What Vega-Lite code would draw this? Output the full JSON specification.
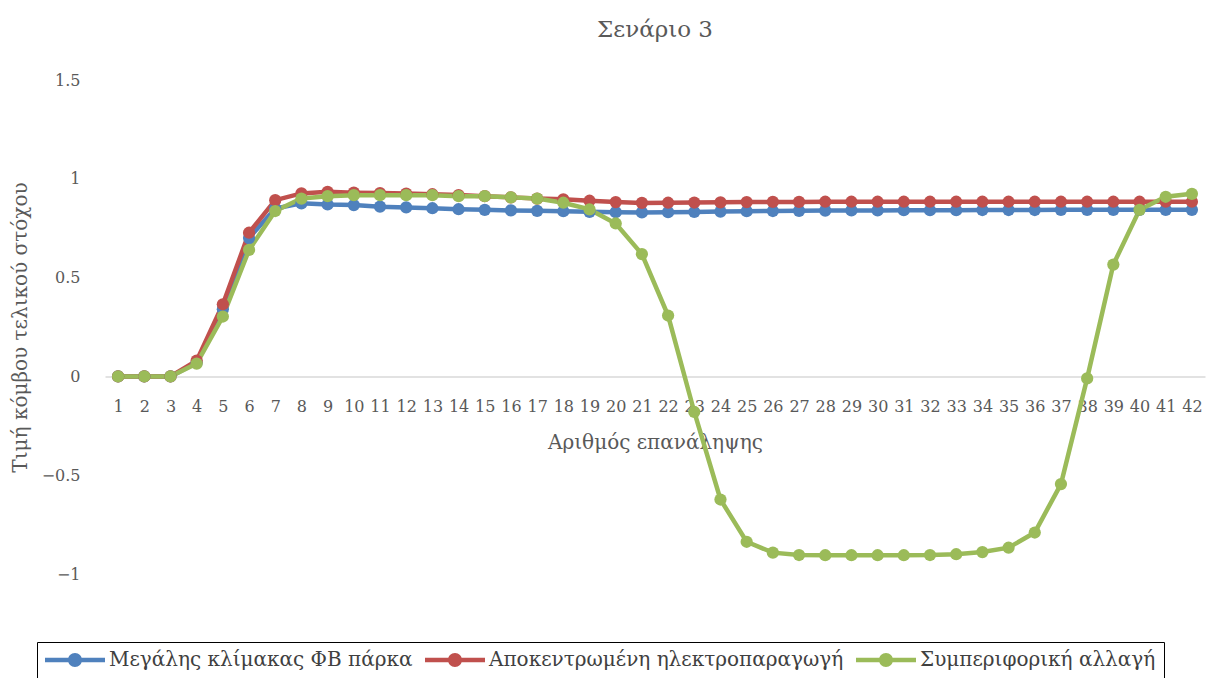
{
  "$schema": "https://vega.github.io/schema/vega-lite/v6.json",
  "width": 1100,
  "height": 494,
  "autosize": "none",
  "padding": {"left": 105, "top": 80, "right": 3, "bottom": 104},
  "background": "white",
  "title": {"text": "Σενάριο 3", "font": "DejaVu Serif", "fontSize": 23, "fontWeight": "normal", "color": "#595959", "anchor": "middle", "offset": 30},
  "config": {"view": {"stroke": null}, "legend": {"labelFont": "DejaVu Serif", "labelFontSize": 20}},
  "data": {"values": [
    {"i":1,"s":"Μεγάλης κλίμακας ΦΒ πάρκα","v":0},
    {"i":2,"s":"Μεγάλης κλίμακας ΦΒ πάρκα","v":0},
    {"i":3,"s":"Μεγάλης κλίμακας ΦΒ πάρκα","v":0},
    {"i":4,"s":"Μεγάλης κλίμακας ΦΒ πάρκα","v":0.07},
    {"i":5,"s":"Μεγάλης κλίμακας ΦΒ πάρκα","v":0.34},
    {"i":6,"s":"Μεγάλης κλίμακας ΦΒ πάρκα","v":0.70},
    {"i":7,"s":"Μεγάλης κλίμακας ΦΒ πάρκα","v":0.85},
    {"i":8,"s":"Μεγάλης κλίμακας ΦΒ πάρκα","v":0.876},
    {"i":9,"s":"Μεγάλης κλίμακας ΦΒ πάρκα","v":0.87},
    {"i":10,"s":"Μεγάλης κλίμακας ΦΒ πάρκα","v":0.867},
    {"i":11,"s":"Μεγάλης κλίμακας ΦΒ πάρκα","v":0.859},
    {"i":12,"s":"Μεγάλης κλίμακας ΦΒ πάρκα","v":0.855},
    {"i":13,"s":"Μεγάλης κλίμακας ΦΒ πάρκα","v":0.851},
    {"i":14,"s":"Μεγάλης κλίμακας ΦΒ πάρκα","v":0.846},
    {"i":15,"s":"Μεγάλης κλίμακας ΦΒ πάρκα","v":0.843},
    {"i":16,"s":"Μεγάλης κλίμακας ΦΒ πάρκα","v":0.84},
    {"i":17,"s":"Μεγάλης κλίμακας ΦΒ πάρκα","v":0.838},
    {"i":18,"s":"Μεγάλης κλίμακας ΦΒ πάρκα","v":0.836},
    {"i":19,"s":"Μεγάλης κλίμακας ΦΒ πάρκα","v":0.833},
    {"i":20,"s":"Μεγάλης κλίμακας ΦΒ πάρκα","v":0.831},
    {"i":21,"s":"Μεγάλης κλίμακας ΦΒ πάρκα","v":0.83},
    {"i":22,"s":"Μεγάλης κλίμακας ΦΒ πάρκα","v":0.831},
    {"i":23,"s":"Μεγάλης κλίμακας ΦΒ πάρκα","v":0.832},
    {"i":24,"s":"Μεγάλης κλίμακας ΦΒ πάρκα","v":0.834},
    {"i":25,"s":"Μεγάλης κλίμακας ΦΒ πάρκα","v":0.836},
    {"i":26,"s":"Μεγάλης κλίμακας ΦΒ πάρκα","v":0.837},
    {"i":27,"s":"Μεγάλης κλίμακας ΦΒ πάρκα","v":0.838},
    {"i":28,"s":"Μεγάλης κλίμακας ΦΒ πάρκα","v":0.839},
    {"i":29,"s":"Μεγάλης κλίμακας ΦΒ πάρκα","v":0.84},
    {"i":30,"s":"Μεγάλης κλίμακας ΦΒ πάρκα","v":0.84},
    {"i":31,"s":"Μεγάλης κλίμακας ΦΒ πάρκα","v":0.841},
    {"i":32,"s":"Μεγάλης κλίμακας ΦΒ πάρκα","v":0.841},
    {"i":33,"s":"Μεγάλης κλίμακας ΦΒ πάρκα","v":0.841},
    {"i":34,"s":"Μεγάλης κλίμακας ΦΒ πάρκα","v":0.842},
    {"i":35,"s":"Μεγάλης κλίμακας ΦΒ πάρκα","v":0.842},
    {"i":36,"s":"Μεγάλης κλίμακας ΦΒ πάρκα","v":0.842},
    {"i":37,"s":"Μεγάλης κλίμακας ΦΒ πάρκα","v":0.843},
    {"i":38,"s":"Μεγάλης κλίμακας ΦΒ πάρκα","v":0.843},
    {"i":39,"s":"Μεγάλης κλίμακας ΦΒ πάρκα","v":0.843},
    {"i":40,"s":"Μεγάλης κλίμακας ΦΒ πάρκα","v":0.843},
    {"i":41,"s":"Μεγάλης κλίμακας ΦΒ πάρκα","v":0.843},
    {"i":42,"s":"Μεγάλης κλίμακας ΦΒ πάρκα","v":0.843},
    {"i":1,"s":"Αποκεντρωμένη ηλεκτροπαραγωγή","v":0},
    {"i":2,"s":"Αποκεντρωμένη ηλεκτροπαραγωγή","v":0},
    {"i":3,"s":"Αποκεντρωμένη ηλεκτροπαραγωγή","v":0},
    {"i":4,"s":"Αποκεντρωμένη ηλεκτροπαραγωγή","v":0.08},
    {"i":5,"s":"Αποκεντρωμένη ηλεκτροπαραγωγή","v":0.365},
    {"i":6,"s":"Αποκεντρωμένη ηλεκτροπαραγωγή","v":0.727},
    {"i":7,"s":"Αποκεντρωμένη ηλεκτροπαραγωγή","v":0.892},
    {"i":8,"s":"Αποκεντρωμένη ηλεκτροπαραγωγή","v":0.926},
    {"i":9,"s":"Αποκεντρωμένη ηλεκτροπαραγωγή","v":0.934},
    {"i":10,"s":"Αποκεντρωμένη ηλεκτροπαραγωγή","v":0.93},
    {"i":11,"s":"Αποκεντρωμένη ηλεκτροπαραγωγή","v":0.928},
    {"i":12,"s":"Αποκεντρωμένη ηλεκτροπαραγωγή","v":0.925},
    {"i":13,"s":"Αποκεντρωμένη ηλεκτροπαραγωγή","v":0.922},
    {"i":14,"s":"Αποκεντρωμένη ηλεκτροπαραγωγή","v":0.918},
    {"i":15,"s":"Αποκεντρωμένη ηλεκτροπαραγωγή","v":0.912},
    {"i":16,"s":"Αποκεντρωμένη ηλεκτροπαραγωγή","v":0.906},
    {"i":17,"s":"Αποκεντρωμένη ηλεκτροπαραγωγή","v":0.90},
    {"i":18,"s":"Αποκεντρωμένη ηλεκτροπαραγωγή","v":0.896},
    {"i":19,"s":"Αποκεντρωμένη ηλεκτροπαραγωγή","v":0.889},
    {"i":20,"s":"Αποκεντρωμένη ηλεκτροπαραγωγή","v":0.882},
    {"i":21,"s":"Αποκεντρωμένη ηλεκτροπαραγωγή","v":0.878},
    {"i":22,"s":"Αποκεντρωμένη ηλεκτροπαραγωγή","v":0.879},
    {"i":23,"s":"Αποκεντρωμένη ηλεκτροπαραγωγή","v":0.88},
    {"i":24,"s":"Αποκεντρωμένη ηλεκτροπαραγωγή","v":0.881},
    {"i":25,"s":"Αποκεντρωμένη ηλεκτροπαραγωγή","v":0.882},
    {"i":26,"s":"Αποκεντρωμένη ηλεκτροπαραγωγή","v":0.883},
    {"i":27,"s":"Αποκεντρωμένη ηλεκτροπαραγωγή","v":0.883},
    {"i":28,"s":"Αποκεντρωμένη ηλεκτροπαραγωγή","v":0.884},
    {"i":29,"s":"Αποκεντρωμένη ηλεκτροπαραγωγή","v":0.884},
    {"i":30,"s":"Αποκεντρωμένη ηλεκτροπαραγωγή","v":0.884},
    {"i":31,"s":"Αποκεντρωμένη ηλεκτροπαραγωγή","v":0.884},
    {"i":32,"s":"Αποκεντρωμένη ηλεκτροπαραγωγή","v":0.884},
    {"i":33,"s":"Αποκεντρωμένη ηλεκτροπαραγωγή","v":0.884},
    {"i":34,"s":"Αποκεντρωμένη ηλεκτροπαραγωγή","v":0.884},
    {"i":35,"s":"Αποκεντρωμένη ηλεκτροπαραγωγή","v":0.884},
    {"i":36,"s":"Αποκεντρωμένη ηλεκτροπαραγωγή","v":0.884},
    {"i":37,"s":"Αποκεντρωμένη ηλεκτροπαραγωγή","v":0.884},
    {"i":38,"s":"Αποκεντρωμένη ηλεκτροπαραγωγή","v":0.884},
    {"i":39,"s":"Αποκεντρωμένη ηλεκτροπαραγωγή","v":0.884},
    {"i":40,"s":"Αποκεντρωμένη ηλεκτροπαραγωγή","v":0.884},
    {"i":41,"s":"Αποκεντρωμένη ηλεκτροπαραγωγή","v":0.884},
    {"i":42,"s":"Αποκεντρωμένη ηλεκτροπαραγωγή","v":0.884},
    {"i":1,"s":"Συμπεριφορική αλλαγή","v":0},
    {"i":2,"s":"Συμπεριφορική αλλαγή","v":0},
    {"i":3,"s":"Συμπεριφορική αλλαγή","v":0},
    {"i":4,"s":"Συμπεριφορική αλλαγή","v":0.065},
    {"i":5,"s":"Συμπεριφορική αλλαγή","v":0.303},
    {"i":6,"s":"Συμπεριφορική αλλαγή","v":0.64},
    {"i":7,"s":"Συμπεριφορική αλλαγή","v":0.837},
    {"i":8,"s":"Συμπεριφορική αλλαγή","v":0.90},
    {"i":9,"s":"Συμπεριφορική αλλαγή","v":0.912},
    {"i":10,"s":"Συμπεριφορική αλλαγή","v":0.917},
    {"i":11,"s":"Συμπεριφορική αλλαγή","v":0.917},
    {"i":12,"s":"Συμπεριφορική αλλαγή","v":0.917},
    {"i":13,"s":"Συμπεριφορική αλλαγή","v":0.917},
    {"i":14,"s":"Συμπεριφορική αλλαγή","v":0.912},
    {"i":15,"s":"Συμπεριφορική αλλαγή","v":0.912},
    {"i":16,"s":"Συμπεριφορική αλλαγή","v":0.906},
    {"i":17,"s":"Συμπεριφορική αλλαγή","v":0.90},
    {"i":18,"s":"Συμπεριφορική αλλαγή","v":0.879},
    {"i":19,"s":"Συμπεριφορική αλλαγή","v":0.845},
    {"i":20,"s":"Συμπεριφορική αλλαγή","v":0.774},
    {"i":21,"s":"Συμπεριφορική αλλαγή","v":0.619},
    {"i":22,"s":"Συμπεριφορική αλλαγή","v":0.308},
    {"i":23,"s":"Συμπεριφορική αλλαγή","v":-0.18},
    {"i":24,"s":"Συμπεριφορική αλλαγή","v":-0.623},
    {"i":25,"s":"Συμπεριφορική αλλαγή","v":-0.837},
    {"i":26,"s":"Συμπεριφορική αλλαγή","v":-0.892},
    {"i":27,"s":"Συμπεριφορική αλλαγή","v":-0.904},
    {"i":28,"s":"Συμπεριφορική αλλαγή","v":-0.905},
    {"i":29,"s":"Συμπεριφορική αλλαγή","v":-0.905},
    {"i":30,"s":"Συμπεριφορική αλλαγή","v":-0.905},
    {"i":31,"s":"Συμπεριφορική αλλαγή","v":-0.905},
    {"i":32,"s":"Συμπεριφορική αλλαγή","v":-0.904},
    {"i":33,"s":"Συμπεριφορική αλλαγή","v":-0.9},
    {"i":34,"s":"Συμπεριφορική αλλαγή","v":-0.889},
    {"i":35,"s":"Συμπεριφορική αλλαγή","v":-0.867},
    {"i":36,"s":"Συμπεριφορική αλλαγή","v":-0.79},
    {"i":37,"s":"Συμπεριφορική αλλαγή","v":-0.545},
    {"i":38,"s":"Συμπεριφορική αλλαγή","v":-0.01},
    {"i":39,"s":"Συμπεριφορική αλλαγή","v":0.566},
    {"i":40,"s":"Συμπεριφορική αλλαγή","v":0.843},
    {"i":41,"s":"Συμπεριφορική αλλαγή","v":0.909},
    {"i":42,"s":"Συμπεριφορική αλλαγή","v":0.924}
  ]},
  "encoding": {
    "x": {"field": "i", "type": "ordinal", "sort": "ascending",
      "scale": {"type": "point", "padding": 0.5},
      "axis": {"title": "Αριθμός επανάληψης", "offset": -197.6, "labelAngle": 0,
        "domainColor": "#d9d9d9", "domainWidth": 1.5, "ticks": false, "grid": false,
        "labelFont": "DejaVu Serif", "labelFontSize": 16, "labelColor": "#595959", "labelPadding": 22,
        "labelOverlap": false,
        "titleFont": "DejaVu Serif", "titleFontSize": 20, "titleFontWeight": "normal", "titleColor": "#595959", "titlePadding": 18}},
    "y": {"field": "v", "type": "quantitative",
      "scale": {"domain": [-1, 1.5], "nice": false, "zero": false},
      "axis": {"title": "Τιμή κόμβου τελικού στόχου", "values": [-1, -0.5, 0, 0.5, 1, 1.5], "format": "~g",
        "domain": false, "ticks": false, "grid": false,
        "labelFont": "DejaVu Serif", "labelFontSize": 16, "labelColor": "#595959", "labelPadding": 25,
        "titleFont": "DejaVu Serif", "titleFontSize": 20, "titleFontWeight": "normal", "titleColor": "#595959", "titlePadding": 11}},
    "color": {"field": "s", "type": "nominal",
      "scale": {"domain": ["Μεγάλης κλίμακας ΦΒ πάρκα", "Αποκεντρωμένη ηλεκτροπαραγωγή", "Συμπεριφορική αλλαγή"], "range": ["#4F81BD", "#C0504D", "#9BBB59"]},
      "legend": {"orient": "none", "direction": "horizontal", "legendX": -68, "legendY": 562, "title": null,
        "strokeColor": "#000000", "padding": 8, "columnPadding": 12,
        "symbolType": "M-1,-0.22L5,-0.22L5,0.22L-1,0.22Z M2.7,0A0.7,0.7 0 1,1 1.3,0A0.7,0.7 0 1,1 2.7,0Z",
        "symbolSize": 400, "symbolStrokeWidth": 0,
        "labelFont": "DejaVu Serif", "labelFontSize": 20, "labelColor": "#404040", "labelLimit": 500, "labelOffset": 44}}
  },
  "layer": [
    {"mark": {"type": "line", "strokeWidth": 4.5}},
    {"mark": {"type": "point", "filled": true, "size": 150, "opacity": 1}}
  ]
}
